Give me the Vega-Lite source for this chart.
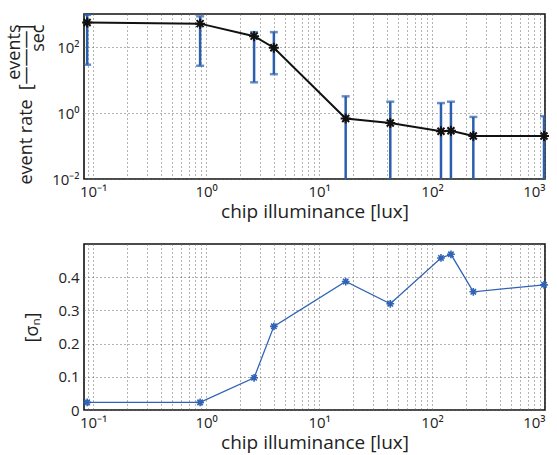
{
  "$schema": "https://vega.github.io/schema/vega-lite/v6.json",
  "padding": {"left": 4, "top": 12, "right": 12, "bottom": 0},
  "spacing": 21,
  "datasets": {
    "pts": [
      {"lux": 0.0885, "rate": 550, "lo": 29, "hi": 940, "sigma": 0.023},
      {"lux": 0.885, "rate": 510, "lo": 27, "hi": 850, "sigma": 0.023},
      {"lux": 2.66, "rate": 213, "lo": 8.5, "hi": 282, "sigma": 0.097},
      {"lux": 3.98, "rate": 95, "lo": 15, "hi": 282, "sigma": 0.252},
      {"lux": 17.2, "rate": 0.68, "lo": 0.001, "hi": 3.2, "sigma": 0.387},
      {"lux": 42.7, "rate": 0.5, "lo": 0.001, "hi": 2.2, "sigma": 0.32},
      {"lux": 120, "rate": 0.28, "lo": 0.001, "hi": 2.0, "sigma": 0.458},
      {"lux": 147, "rate": 0.29, "lo": 0.001, "hi": 2.2, "sigma": 0.469},
      {"lux": 232, "rate": 0.2, "lo": 0.001, "hi": 0.76, "sigma": 0.356},
      {"lux": 980, "rate": 0.2, "lo": 0.001, "hi": 0.8, "sigma": 0.377}
    ]
  },
  "config": {
    "view": {"stroke": "#111", "strokeWidth": 1.6},
    "font": "Open Sans",
    "axis": {
      "domain": false,
      "ticks": false,
      "grid": true,
      "gridDash": [1, 3],
      "gridColor": "#666",
      "gridWidth": 1,
      "labelFont": "Open Sans",
      "labelFontSize": 15,
      "labelColor": "#222",
      "labelOverlap": false,
      "labelBound": false,
      "titleFont": "Open Sans",
      "titleFontSize": 19,
      "titleFontWeight": "normal",
      "titleColor": "#222"
    }
  },
  "vconcat": [
    {
      "width": 461,
      "height": 165,
      "data": {"name": "pts"},
      "encoding": {
        "x": {
          "field": "lux", "type": "quantitative",
          "scale": {"type": "log", "domain": [0.083, 1000], "nice": false},
          "axis": {
            "title": "chip illuminance [lux]",
            "titlePadding": 3,
            "labelPadding": 5,
            "values": [0.09,0.1,0.2,0.3,0.4,0.5,0.6,0.7,0.8,0.9,1,2,3,4,5,6,7,8,9,10,20,30,40,50,60,70,80,90,100,200,300,400,500,600,700,800,900,1000],
            "labelExpr": "datum.value == 0.1 ? '10⁻¹' : datum.value == 1 ? '10⁰' : datum.value == 10 ? '10¹' : datum.value == 100 ? '10²' : datum.value == 1000 ? '10³' : ''"
          }
        }
      },
      "layer": [
        {
          "mark": {"type": "rule", "color": "#2b5fad", "strokeWidth": 2.5, "clip": true},
          "encoding": {
            "y": {"field": "lo", "type": "quantitative",
              "scale": {"type": "log", "domain": [0.01, 1000], "nice": false},
              "axis": {
                "title": ["events\u2009", "event rate\u2002[\u2014\u2014\u2014]", "sec\u2007\u2007"],
                "titleFontSize": 18,
                "titleAnchor": "end",
                "titleAlign": "right",
                "titleLineHeight": 12,
                "titlePadding": 4,
                "titleY": 10,
                "labelPadding": 5,
                "values": [0.01, 1, 100],
                "labelExpr": "datum.value == 100 ? '10²' : datum.value == 1 ? '10⁰' : '10⁻²'"
              }
            },
            "y2": {"field": "hi"}
          }
        },
        {
          "mark": {"type": "tick", "orient": "horizontal", "color": "#2b5fad", "size": 8, "thickness": 2.5, "clip": true},
          "encoding": {"y": {"field": "hi", "type": "quantitative"}}
        },
        {
          "mark": {"type": "tick", "orient": "horizontal", "color": "#2b5fad", "size": 8, "thickness": 2.5, "clip": true},
          "encoding": {"y": {"field": "lo", "type": "quantitative"}}
        },
        {
          "mark": {"type": "line", "color": "#111", "strokeWidth": 2},
          "encoding": {"y": {"field": "rate", "type": "quantitative"}}
        },
        {
          "mark": {"type": "point", "filled": false, "stroke": "#111", "strokeWidth": 2, "size": 100,
            "shape": "M-1,0L1,0M0,-1L0,1M-0.7,-0.7L0.7,0.7M-0.7,0.7L0.7,-0.7", "opacity": 1},
          "encoding": {"y": {"field": "rate", "type": "quantitative"}}
        }
      ]
    },
    {
      "width": 461,
      "height": 166,
      "data": {"name": "pts"},
      "encoding": {
        "x": {
          "field": "lux", "type": "quantitative",
          "scale": {"type": "log", "domain": [0.083, 1000], "nice": false},
          "axis": {
            "title": "chip illuminance [lux]",
            "titlePadding": 3,
            "labelPadding": 5,
            "values": [0.09,0.1,0.2,0.3,0.4,0.5,0.6,0.7,0.8,0.9,1,2,3,4,5,6,7,8,9,10,20,30,40,50,60,70,80,90,100,200,300,400,500,600,700,800,900,1000],
            "labelExpr": "datum.value == 0.1 ? '10⁻¹' : datum.value == 1 ? '10⁰' : datum.value == 10 ? '10¹' : datum.value == 100 ? '10²' : datum.value == 1000 ? '10³' : ''"
          }
        },
        "y": {
          "field": "sigma", "type": "quantitative",
          "scale": {"domain": [0, 0.5], "nice": false},
          "axis": {
            "title": "[σₙ]",
            "titleFontSize": 18,
            "titlePadding": 16,
            "labelPadding": 5,
            "values": [0, 0.1, 0.2, 0.3, 0.4],
            "format": ".1~f"
          }
        }
      },
      "layer": [
        {
          "mark": {"type": "line", "color": "#2f63b5", "strokeWidth": 1.3}
        },
        {
          "mark": {"type": "point", "filled": false, "stroke": "#2f63b5", "strokeWidth": 1.6, "size": 60,
            "shape": "M-1,0L1,0M0,-1L0,1M-0.7,-0.7L0.7,0.7M-0.7,0.7L0.7,-0.7", "opacity": 1}
        }
      ]
    }
  ]
}
